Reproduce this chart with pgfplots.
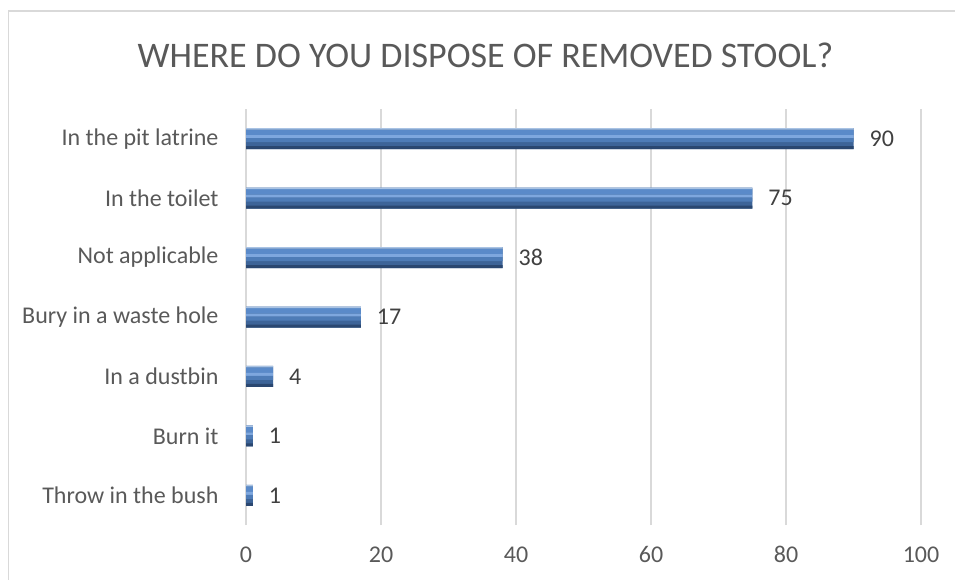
\documentclass[border=0pt]{standalone}
\usepackage{pgfplots}
\pgfplotsset{compat=1.18}
\usepackage{fontspec}
\setmainfont{Carlito}
\definecolor{txt}{HTML}{595959}
\definecolor{lbl}{HTML}{404040}
\definecolor{gridc}{HTML}{D9D9D9}
\definecolor{btop}{HTML}{A9C3E4}
\definecolor{bmid}{HTML}{5A8AC9}
\definecolor{blight}{HTML}{7EA7DE}
\definecolor{bmidd}{HTML}{4E7CB7}
\definecolor{bdark}{HTML}{3D6498}
\definecolor{bbot}{HTML}{2A4770}
\pgfplotstableread{
val cat
1 0
1 1
4 2
17 3
38 4
75 5
90 6
}\datatab
\begin{document}
\begin{tikzpicture}[x=1pt,y=1pt]
\useasboundingbox (0,0) rectangle (955,579);
\draw[draw=gridc, line width=1.5pt] (8.5,-20) rectangle (1100,568);
\node[text=txt, font=\fontsize{36}{40}\selectfont] at (485.5,524) {WHERE DO YOU DISPOSE OF REMOVED STOOL?};
\begin{axis}[
  at={(246pt,54pt)}, anchor=south west,
  scale only axis, width=675pt, height=416pt,
  xmin=0, xmax=100, ymin=-0.5, ymax=6.5,
  xtick={0,20,40,60,80,100},
  ytick={0,1,2,3,4,5,6},
  yticklabels={Throw in the bush, Burn it, In a dustbin, Bury in a waste hole, Not applicable, In the toilet, In the pit latrine},
  /pgf/number format/assume math mode=true,
  axis line style={draw=none},
  major tick length=0pt,
  xtick style={draw=none}, ytick style={draw=none},
  xmajorgrids, ymajorgrids=false, x grid style={draw=gridc, line width=1.5pt},
  tick label style={text=txt, font=\fontsize{24}{28}\selectfont},
  xticklabel style={yshift=-18pt},
  yticklabel style={xshift=-24pt},
  clip=false,
]
\addplot[xbar, bar width=21pt, bar shift=0pt, draw=none, fill=bdark] table[x=val,y=cat] {\datatab};
\addplot[xbar, bar width=5.5pt, bar shift=6.25pt, draw=none, fill=bmid] table[x=val,y=cat] {\datatab};
\addplot[xbar, bar width=3pt, bar shift=2pt, draw=none, fill=blight] table[x=val,y=cat] {\datatab};
\addplot[xbar, bar width=4pt, bar shift=-1.5pt, draw=none, fill=bmidd] table[x=val,y=cat] {\datatab};
\addplot[xbar, bar width=3pt, bar shift=-9pt, draw=none, fill=bbot] table[x=val,y=cat] {\datatab};
\addplot[xbar, bar width=1.5pt, bar shift=9.75pt, draw=none, fill=btop,
  nodes near coords, point meta=x,
  nodes near coords style={anchor=west, inner sep=0pt, xshift=16pt, text=lbl, font=\fontsize{24}{28}\selectfont, /pgf/number format/assume math mode=true}]
  table[x=val,y=cat] {\datatab};
\end{axis}
\end{tikzpicture}
\end{document}
